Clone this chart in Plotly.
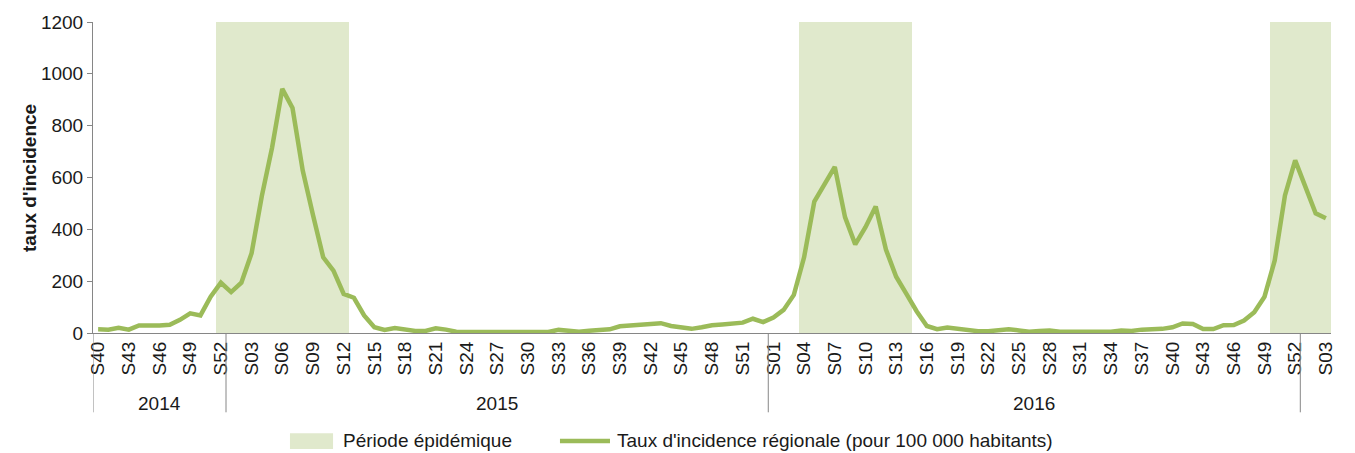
import plotly.graph_objects as go

# weekly incidence rate per 100 000 inhabitants
weeks_2014 = [f"S{w:02d}" for w in range(40, 53)]
weeks_2015 = [f"S{w:02d}" for w in range(1, 54)]
weeks_2016 = [f"S{w:02d}" for w in range(1, 53)]
weeks_2017 = [f"S{w:02d}" for w in range(1, 4)]

rate_2014 = [14, 13, 20, 13, 29, 27, 29, 32, 51, 76, 68, 140, 194]
rate_2015 = [158, 194, 308, 528, 715, 942, 868, 627, 455, 292,
             241, 151, 136, 68, 22, 12, 19, 12, 8, 8,
             18, 13, 5, 4, 4, 4, 5, 6, 5, 4,
             4, 4, 12, 8, 5, 9, 10, 14, 26, 29,
             30, 31, 38, 27, 21, 16, 22, 30, 33, 38,
             40, 55, 42]
rate_2016 = [60, 89, 147, 292, 507, 572, 641, 447, 342, 408,
             488, 322, 217, 151, 84, 27, 15, 21, 16, 9,
             7, 7, 10, 14, 10, 5, 8, 10, 5, 5,
             6, 8, 9, 5, 10, 8, 13, 13, 16, 22,
             37, 35, 15, 15, 30, 31, 48, 80, 140, 280,
             531, 666]
rate_2017 = [563, 462, 443]

# epidemic periods (first week, last week)
epidemics = [("2014-S52", "2015-S12"), ("2016-S04", "2016-S14"), ("2016-S50", "2017-S03")]

years = [("2014", weeks_2014, rate_2014), ("2015", weeks_2015, rate_2015),
         ("2016", weeks_2016, rate_2016), ("2017", weeks_2017, rate_2017)]

keys, labels, rates = [], [], []
for y, wk, rt in years:
    keys += [f"{y}-{w}" for w in wk]
    labels += wk
    rates += rt
idx = list(range(len(keys)))

epi = [None] * len(keys)
for a, b in epidemics:
    for i in range(keys.index(a), keys.index(b) + 1):
        epi[i] = 1200

green = "#9BBB59"
shade = "#E0E9CC"
axis_col = "#868686"
txt = "#1a1a1a"
font = "Liberation Sans, Arial, sans-serif"
fs = 19

fig = go.Figure()
fig.add_trace(go.Bar(x=idx, y=epi, name="Période épidémique",
                     marker=dict(color=shade, line_width=0), hoverinfo="skip"))
fig.add_trace(go.Scatter(x=idx, y=rates, mode="lines",
                         name="Taux d'incidence régionale (pour 100 000 habitants)",
                         line=dict(color=green, width=4.5)))

# year separators and labels below the week labels
bounds = [-0.5]
pos = 0
for y, wk, rt in years:
    pos += len(wk)
    bounds.append(pos - 0.5)
for b in bounds[:-1]:
    fig.add_shape(type="line", xref="x", yref="paper", x0=b, x1=b, y0=0, y1=-0.255,
                  line=dict(color=axis_col, width=1))
for k, (y, wk, rt) in enumerate(years[:3]):
    fig.add_annotation(x=(bounds[k] + bounds[k + 1]) / 2, y=-0.228, xref="x", yref="paper",
                       text=y, showarrow=False, yanchor="middle", font=dict(size=fs, color=txt))

fig.add_annotation(x=-0.0614, y=0.5, xref="paper", yref="paper", text="<b>taux d'incidence</b>",
                   textangle=-90, showarrow=False, font=dict(size=fs, color=txt))

# legend drawn below the axis, as in the original
fig.add_shape(type="rect", xref="paper", yref="paper", x0=0.1591, x1=0.1939, y0=-0.322, y1=-0.373,
              line_width=0, fillcolor=shade)
fig.add_annotation(x=0.2003, y=-0.347, xref="paper", yref="paper", text=fig.data[0].name,
                   xanchor="left", yanchor="middle", showarrow=False, font=dict(size=fs, color=txt))
fig.add_shape(type="line", xref="paper", yref="paper", x0=0.3772, x1=0.4176, y0=-0.347, y1=-0.347,
              line=dict(color=green, width=4.5))
fig.add_annotation(x=0.4216, y=-0.347, xref="paper", yref="paper", text=fig.data[1].name,
                   xanchor="left", yanchor="middle", showarrow=False, font=dict(size=fs, color=txt))

fig.update_layout(
    width=1355, height=453,
    margin=dict(l=93, r=24, t=22, b=120),
    plot_bgcolor="white", paper_bgcolor="white",
    font=dict(family=font, size=fs, color=txt),
    bargap=0, showlegend=False,
    xaxis=dict(range=[-0.5, len(idx) - 0.5], tickmode="array", tickvals=idx[::3],
               ticktext=labels[::3], tickangle=-90, showline=True, linecolor=axis_col,
               linewidth=1, showgrid=False, zeroline=False, ticks="", automargin=False),
    yaxis=dict(range=[0, 1200], dtick=200, showline=True, linecolor=axis_col, linewidth=1,
               showgrid=False, zeroline=False, ticks="outside", ticklen=5, tickcolor=axis_col,
               automargin=False),
)

fig.write_html("out.html", config={"displayModeBar": False},
               post_script="document.body.style.margin='0';")
